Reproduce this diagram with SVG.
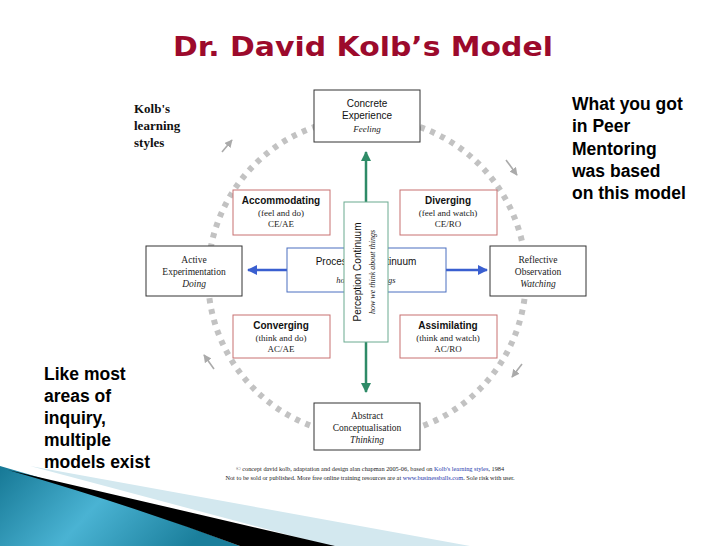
<svg xmlns="http://www.w3.org/2000/svg" width="728" height="546" viewBox="0 0 728 546">
<defs>
<style>
.box{fill:#fff;stroke:#333;stroke-width:1}
.red{fill:#fff;stroke:#c87070;stroke-width:1}
.sans{font-family:"Liberation Sans",Arial,sans-serif;fill:#111}
.serif{font-family:"Liberation Serif","Times New Roman",serif;fill:#222}
.it{font-style:italic}
.big{font-family:"Liberation Sans",Arial,sans-serif;font-weight:bold;font-size:17.5px;fill:#000}
.ring{fill:none;stroke:#c2c2c2;stroke-width:6;stroke-dasharray:5 6}
.garr{stroke:#aaa;stroke-width:1.6;fill:none}
</style>
<marker id="gh" viewBox="0 0 10 10" refX="9" refY="5" markerWidth="5" markerHeight="5" orient="auto"><path d="M0,0 L10,5 L0,10 Z" fill="#aaa"/></marker>
<marker id="greenh" viewBox="0 0 10 10" refX="9" refY="5" markerWidth="4" markerHeight="4" orient="auto"><path d="M0,0 L10,5 L0,10 Z" fill="#2e8b67"/></marker>
<marker id="blueh" viewBox="0 0 10 10" refX="9" refY="5" markerWidth="4" markerHeight="4" orient="auto"><path d="M0,0 L10,5 L0,10 Z" fill="#3a5fd0"/></marker>
<linearGradient id="teal" x1="0" y1="0" x2="1" y2="0.3"><stop offset="0" stop-color="#167895"/><stop offset="0.5" stop-color="#4ab3d3"/><stop offset="1" stop-color="#1b7f9c"/></linearGradient>
</defs>
<rect width="728" height="546" fill="#fff"/>

<g id="decor">
<path d="M30,466 L470,546 L330,546 Z" fill="#d3e8ef"/>
<path d="M0,466 Q120,500 240,546 L0,546 Z" fill="url(#teal)"/>
<path d="M8,470 L335,546 L240,546 Q130,505 8,470 Z" fill="#000"/>
</g>

<text id="title" x="363" y="56" text-anchor="middle" font-family="'DejaVu Sans',Verdana,sans-serif" font-weight="bold" font-size="27" textLength="380" lengthAdjust="spacingAndGlyphs" fill="#9c0a2c">Dr. David Kolb’s Model</text>

<g id="ring">
<circle class="ring" cx="367" cy="277" r="159"/>
<line class="garr" x1="222" y1="152" x2="232" y2="140" marker-end="url(#gh)"/>
<line class="garr" x1="506" y1="160" x2="517" y2="175" marker-end="url(#gh)"/>
<line class="garr" x1="522" y1="364" x2="512" y2="377" marker-end="url(#gh)"/>
<line class="garr" x1="214" y1="369" x2="204" y2="355" marker-end="url(#gh)"/>
</g>

<g id="connectors">
<line x1="366" y1="202" x2="366" y2="152" stroke="#2e8b67" stroke-width="2.5" marker-end="url(#greenh)"/>
<line x1="366" y1="342" x2="366" y2="392" stroke="#2e8b67" stroke-width="2.5" marker-end="url(#greenh)"/>
<line x1="287" y1="270" x2="248" y2="270" stroke="#3a5fd0" stroke-width="2.5" marker-end="url(#blueh)"/>
<line x1="446" y1="270" x2="487" y2="270" stroke="#3a5fd0" stroke-width="2.5" marker-end="url(#blueh)"/>
</g>

<g id="kolb-label" class="serif" font-weight="bold" font-size="13">
<text x="134" y="113" fill="#111">Kolb's</text>
<text x="134" y="130" fill="#111">learning</text>
<text x="134" y="147" fill="#111">styles</text>
</g>

<g id="concrete">
<rect class="box" x="314" y="90" width="106" height="52"/>
<text class="sans" x="367" y="107" text-anchor="middle" font-size="10">Concrete</text>
<text class="sans" x="367" y="119" text-anchor="middle" font-size="10">Experience</text>
<text class="serif it" x="367" y="132" text-anchor="middle" font-size="9">Feeling</text>
</g>

<g id="active">
<rect class="box" x="146" y="246" width="96" height="50"/>
<text class="serif" x="194" y="263" text-anchor="middle" font-size="9.5">Active</text>
<text class="serif" x="194" y="275" text-anchor="middle" font-size="9.5">Experimentation</text>
<text class="serif it" x="194" y="287" text-anchor="middle" font-size="9.5">Doing</text>
</g>

<g id="reflective">
<rect class="box" x="490" y="246" width="96" height="50"/>
<text class="serif" x="538" y="263" text-anchor="middle" font-size="9.5">Reflective</text>
<text class="serif" x="538" y="275" text-anchor="middle" font-size="9.5">Observation</text>
<text class="serif it" x="538" y="287" text-anchor="middle" font-size="9.5">Watching</text>
</g>

<g id="abstract">
<rect class="box" x="314" y="403" width="106" height="47"/>
<text class="serif" x="367" y="419" text-anchor="middle" font-size="9.5">Abstract</text>
<text class="serif" x="367" y="431" text-anchor="middle" font-size="9.5">Conceptualisation</text>
<text class="serif it" x="367" y="443" text-anchor="middle" font-size="9.5">Thinking</text>
</g>

<g id="accommodating">
<rect class="red" x="233" y="190" width="97" height="45"/>
<text class="sans" x="281" y="204" text-anchor="middle" font-size="10" font-weight="bold">Accommodating</text>
<text class="serif" x="281" y="216" text-anchor="middle" font-size="9">(feel and do)</text>
<text class="serif" x="281" y="227" text-anchor="middle" font-size="9">CE/AE</text>
</g>

<g id="diverging">
<rect class="red" x="400" y="190" width="97" height="45"/>
<text class="sans" x="448" y="204" text-anchor="middle" font-size="10" font-weight="bold">Diverging</text>
<text class="serif" x="448" y="216" text-anchor="middle" font-size="9">(feel and watch)</text>
<text class="serif" x="448" y="227" text-anchor="middle" font-size="9">CE/RO</text>
</g>

<g id="converging">
<rect class="red" x="233" y="315" width="97" height="43"/>
<text class="sans" x="281" y="329" text-anchor="middle" font-size="10" font-weight="bold">Converging</text>
<text class="serif" x="281" y="341" text-anchor="middle" font-size="9">(think and do)</text>
<text class="serif" x="281" y="352" text-anchor="middle" font-size="9">AC/AE</text>
</g>

<g id="assimilating">
<rect class="red" x="400" y="315" width="97" height="43"/>
<text class="sans" x="448" y="329" text-anchor="middle" font-size="10" font-weight="bold">Assimilating</text>
<text class="serif" x="448" y="341" text-anchor="middle" font-size="9">(think and watch)</text>
<text class="serif" x="448" y="352" text-anchor="middle" font-size="9">AC/RO</text>
</g>

<g id="processing">
<rect x="287" y="248" width="159" height="44" fill="#fff" stroke="#4a6fc0" stroke-width="1"/>
<text class="sans" x="366" y="265" text-anchor="middle" font-size="10">Processing Continuum</text>
<text class="serif it" x="366" y="283" text-anchor="middle" font-size="8.5">how we do things</text>
</g>

<g id="perception">
<rect x="344" y="202" width="44" height="140" fill="#fff" stroke="#6aaa90" stroke-width="1"/>
<text class="sans" transform="translate(361,272) rotate(-90)" text-anchor="middle" font-size="10">Perception Continuum</text>
<text class="serif it" transform="translate(375,272) rotate(-90)" text-anchor="middle" font-size="8">how we think about things</text>
</g>

<g id="right-note">
<text class="big" x="572" y="110">What you got</text>
<text class="big" x="572" y="132">in Peer</text>
<text class="big" x="572" y="155">Mentoring</text>
<text class="big" x="572" y="177">was based</text>
<text class="big" x="572" y="199">on this model</text>
</g>

<g id="left-note">
<text class="big" x="44" y="380">Like most</text>
<text class="big" x="44" y="402">areas of</text>
<text class="big" x="44" y="424">inquiry,</text>
<text class="big" x="44" y="446">multiple</text>
<text class="big" x="44" y="468">models exist</text>
</g>

<g id="credit" class="serif" font-size="6.3" text-anchor="middle">
<text x="370" y="471">© concept david kolb, adaptation and design alan chapman 2005-06, based on <tspan fill="#2233aa">Kolb's learning styles</tspan>, 1984</text>
<text x="370" y="480">Not to be sold or published. More free online training resources are at <tspan fill="#2233aa">www.businessballs.com</tspan>. Sole risk with user.</text>
</g>
</svg>
